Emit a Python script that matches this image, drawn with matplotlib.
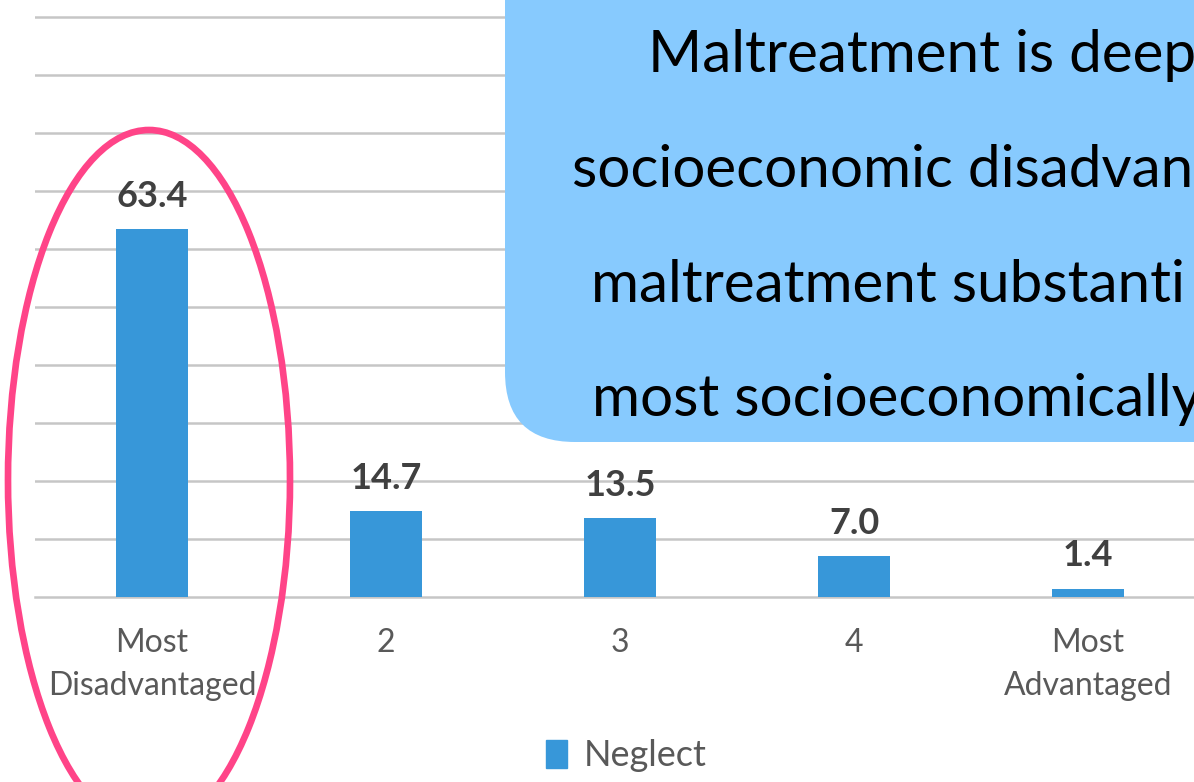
import matplotlib
matplotlib.use("Agg")
import matplotlib.pyplot as plt
from matplotlib.patches import Ellipse, FancyBboxPatch, Patch

categories = ["Most\nDisadvantaged", "2", "3", "4", "Most\nAdvantaged"]
neglect = [63.4, 14.7, 13.5, 7.0, 1.4]
series_name = "Neglect"
callout_lines = ["Maltreatment is deep", "socioeconomic disadvan",
                 "maltreatment substanti", "most socioeconomically"]

W, H = 1194, 782
fig = plt.figure(figsize=(W / 100, H / 100), dpi=100)
FONT = "Lato"

# main axes (extends slightly past right edge, as in the cropped reference)
left_px, right_px, base_px = 35, 1205, 596.7
ax = fig.add_axes([left_px / W, (H - base_px) / H, (right_px - left_px) / W, base_px / H])
px_per_unit = (base_px - 17) / 100.0
ax.set_ylim(0, base_px / px_per_unit)
ax.set_xlim(-0.5, len(categories) - 0.5)

x = list(range(len(categories)))
bars = ax.bar(x, neglect, width=0.31, color="#3797D9", zorder=3, label=series_name)

ax.set_yticks(range(10, 101, 10))
ax.yaxis.grid(True, color="#C6C6C6", linewidth=1.8, zorder=0)
ax.tick_params(axis="y", left=False, labelleft=False)
ax.tick_params(axis="x", bottom=False, pad=19, labelsize=23, labelcolor="#595959")
ax.set_xticks(x)
ax.set_xticklabels(categories, fontfamily=FONT, linespacing=1.55)
for s in ["top", "right", "left"]:
    ax.spines[s].set_visible(False)
ax.spines["bottom"].set_color("#C6C6C6")
ax.spines["bottom"].set_linewidth(1.8)
ax.set_facecolor("none")

for xi, v in zip(x, neglect):
    ax.annotate(f"{v:.1f}", (xi, v), xytext=(0, 16), textcoords="offset points",
                ha="center", va="baseline", fontsize=26, fontweight="bold",
                color="#404040", fontfamily=FONT)

fig.legend(handles=[Patch(color="#3797D9", label=series_name)], loc="center",
           bbox_to_anchor=(626 / W, 1 - 756 / H), frameon=False,
           handlelength=0.6, handleheight=0.8, handletextpad=0.45,
           prop={"family": FONT, "size": 26}, labelcolor="#595959")

# overlay in pixel coordinates
ov = fig.add_axes([0, 0, 1, 1], zorder=10)
ov.set_xlim(0, W)
ov.set_ylim(H, 0)
ov.axis("off")
ov.patch.set_alpha(0)

box = FancyBboxPatch((505, -200), 900, 642, boxstyle="round,pad=0,rounding_size=70",
                     facecolor="#87CAFE", edgecolor="none", zorder=1)
ov.add_patch(box)
starts = [648, 572, 591, 592]
baselines = [72, 187, 302, 416]
for line, sx, by in zip(callout_lines, starts, baselines):
    ov.text(sx, by, line, ha="left", va="baseline", fontsize=42,
            fontfamily=FONT, color="black", zorder=2)

ell = Ellipse((149, 480), 282, 700, facecolor="none", edgecolor="#FF4488",
              linewidth=4.8, zorder=3)
ov.add_patch(ell)

fig.savefig("out.png", dpi=100)
